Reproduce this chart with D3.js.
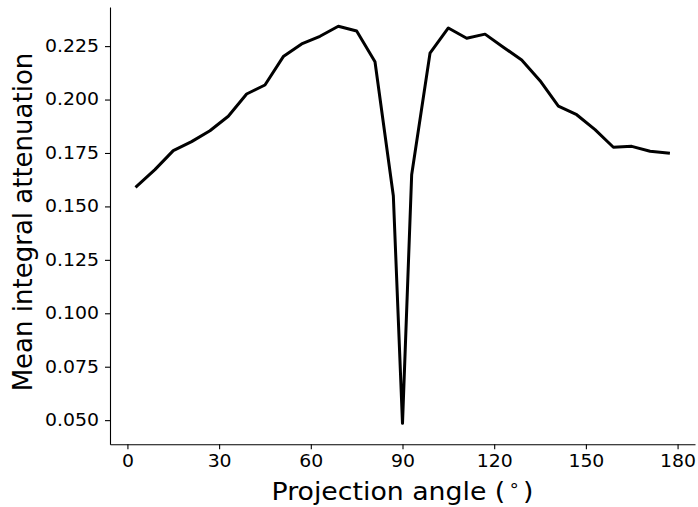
<!DOCTYPE html>
<html>
<head>
<meta charset="utf-8">
<script src="https://cdn.jsdelivr.net/npm/d3@7"></script>
<style>
  body { margin: 0; background: #fff; }
  svg text { font-family: "DejaVu Sans", sans-serif; fill: #000; }
</style>
</head>
<body>
<div id="chart"></div>
<script>
// projection angles (degrees) and mean integral attenuation
const angles = [3, 9, 15, 21, 27, 33, 39, 45, 51, 57, 63, 69, 75, 81, 87,
    90,
    93, 99, 105, 111, 117, 123, 129, 135, 141, 147, 153, 159, 165, 171, 177];
const attenuation = [0.1594, 0.1672, 0.1761, 0.1803, 0.1854, 0.1922, 0.2026, 0.2068,
    0.2201, 0.2260, 0.2296, 0.2343, 0.2321, 0.2177, 0.1550,
    0.0485,
    0.1648, 0.2217, 0.2335, 0.2287, 0.2306, 0.2245, 0.2185, 0.2088,
    0.1969, 0.1929, 0.1859, 0.1777, 0.1781, 0.1758, 0.1749];
const xTicks = [0, 30, 60, 90, 120, 150, 180];
const yTicks = [0.050, 0.075, 0.100, 0.125, 0.150, 0.175, 0.200, 0.225];

const width = 698, height = 507;
const margin = {top: 7, right: 3, bottom: 62.7, left: 110};
const stretch = 1.11; // the reference text is a bit wider than plain DejaVu

const data = angles.map((a, i) => ({angle: a, value: attenuation[i]}));

const x = d3.scaleLinear([-5.7, 185.7], [margin.left, width - margin.right]);
const y = d3.scaleLinear([0.0387, 0.2433], [height - margin.bottom, margin.top]);

const svg = d3.select("#chart").append("svg")
    .attr("width", width)
    .attr("height", height)
    .attr("viewBox", [0, 0, width, height]);

// x axis
const xAxis = svg.append("g")
    .attr("transform", `translate(0,${height - margin.bottom})`)
    .call(d3.axisBottom(x).tickValues(xTicks).tickSize(5).tickSizeOuter(0)
        .tickPadding(6).tickFormat(d3.format("d")));

// y axis
const yAxis = svg.append("g")
    .attr("transform", `translate(${margin.left},0)`)
    .call(d3.axisLeft(y).tickValues(yTicks).tickSize(5).tickSizeOuter(0)
        .tickPadding(6).tickFormat(d3.format(".3f")));

[xAxis, yAxis].forEach(g => {
    g.select(".domain").attr("stroke", "#000").attr("stroke-width", 1.1);
    g.selectAll(".tick line").attr("stroke", "#000").attr("stroke-width", 1.1);
    g.selectAll(".tick text")
        .attr("fill", "#000")
        .style("font-family", "DejaVu Sans")
        .style("font-size", "17px");
});
xAxis.selectAll(".tick text").attr("transform", `scale(${stretch},1)`);
yAxis.selectAll(".tick text")
    .attr("x", -11 / stretch)
    .attr("transform", `scale(${stretch},1)`);

// the line
const line = d3.line()
    .x(d => x(d.angle))
    .y(d => y(d.value));

svg.append("path")
    .datum(data)
    .attr("fill", "none")
    .attr("stroke", "#000")
    .attr("stroke-width", 3)
    .attr("stroke-linejoin", "round")
    .attr("stroke-linecap", "square")
    .attr("d", line);

// axis labels
const xMid = (margin.left + width - margin.right) / 2;
const xLabel = svg.append("text")
    .attr("transform", `translate(${xMid},500) scale(1.07,1)`)
    .attr("text-anchor", "middle")
    .style("font-size", "25px");
xLabel.append("tspan").text("Projection angle (");
xLabel.append("tspan").attr("dx", 3).attr("dy", -9).style("font-size", "17px").text("\u2218");
xLabel.append("tspan").attr("dx", 3).attr("dy", 9).text(")");

svg.append("text")
    .attr("transform", "translate(32,222) rotate(-90)")
    .attr("text-anchor", "middle")
    .style("font-size", "26px")
    .text("Mean integral attenuation");
</script>
</body>
</html>
